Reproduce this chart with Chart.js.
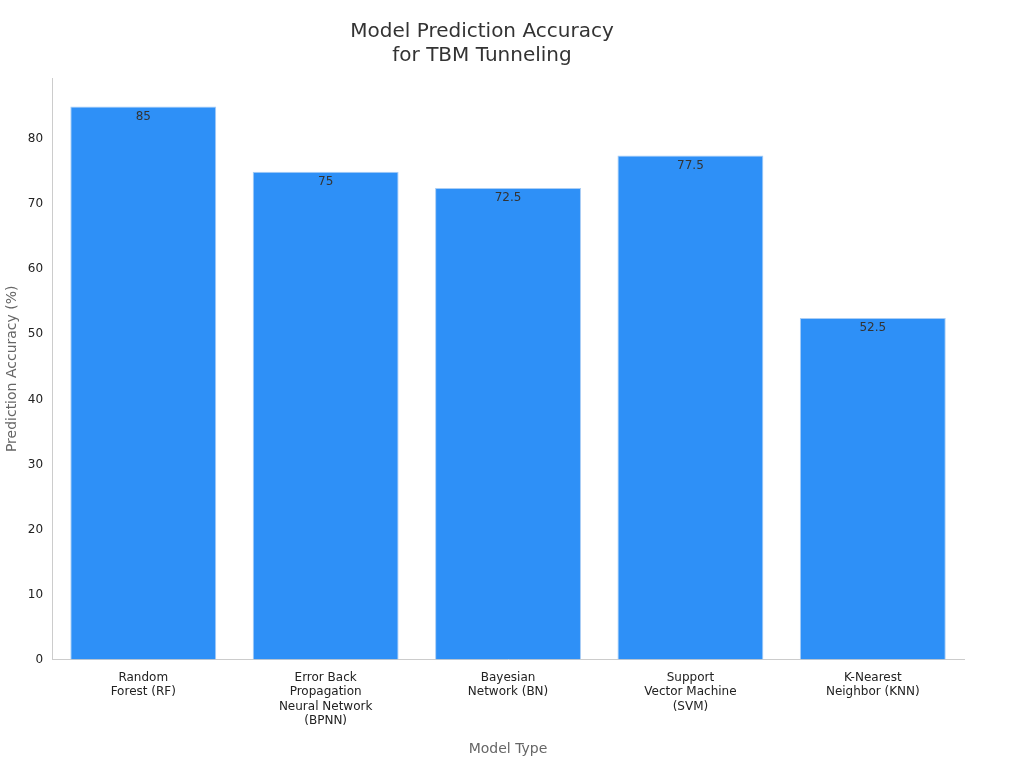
<!DOCTYPE html>
<html>
<head>
<script src="https://cdn.jsdelivr.net/npm/chart.js@4"></script>
<style>body{margin:0;background:#fff}#wrap{width:1024px;height:768px}</style>
</head>
<body>
<div id="wrap"><canvas id="c"></canvas></div>
<script>
const categories = [
  ['Random', 'Forest (RF)'],
  ['Error Back', 'Propagation', 'Neural Network', '(BPNN)'],
  ['Bayesian', 'Network (BN)'],
  ['Support', 'Vector Machine', '(SVM)'],
  ['K-Nearest', 'Neighbor (KNN)']
];
const accuracy = [85, 75, 72.5, 77.5, 52.5];
const yTicks = [0, 10, 20, 30, 40, 50, 60, 70, 80];

Chart.defaults.font.family = 'DejaVu Sans';

const valueLabels = {
  id: 'valueLabels',
  afterDatasetsDraw(chart) {
    const ctx = chart.ctx;
    const meta = chart.getDatasetMeta(0);
    ctx.save();
    ctx.font = '12px DejaVu Sans';
    ctx.fillStyle = '#333';
    ctx.textAlign = 'center';
    ctx.textBaseline = 'top';
    meta.data.forEach((bar, i) => {
      ctx.fillText(String(accuracy[i]), bar.x, bar.y + 4);
    });
    ctx.restore();
  }
};

new Chart(document.getElementById('c'), {
  type: 'bar',
  data: {
    labels: categories,
    datasets: [{
      data: accuracy,
      backgroundColor: '#2e90f7',
      borderColor: '#a9cdf5',
      borderWidth: 1,
      barPercentage: 0.8,
      categoryPercentage: 1
    }]
  },
  options: {
    responsive: true,
    maintainAspectRatio: false,
    animation: false,
    layout: { padding: { left: 0, right: 60, top: 10, bottom: 6 } },
    plugins: {
      legend: { display: false },
      tooltip: { enabled: false },
      title: {
        display: true,
        text: ['Model Prediction Accuracy', 'for TBM Tunneling'],
        color: '#333',
        font: { size: 20, weight: 'normal' },
        padding: { top: 10, bottom: 10 }
      }
    },
    scales: {
      x: {
        grid: { display: false, drawTicks: true },
        border: { color: '#ccc' },
        ticks: { color: '#222', font: { size: 12 }, maxRotation: 0 },
        title: { display: true, text: 'Model Type', color: '#666', font: { size: 14 }, padding: { top: 10 } }
      },
      y: {
        min: 0,
        max: 89.4,
        afterBuildTicks(axis) { axis.ticks = yTicks.map(v => ({ value: v })); },
        grid: { display: false, drawTicks: true, tickLength: 6 },
        border: { color: '#ccc' },
        ticks: { color: '#222', font: { size: 12 } },
        title: { display: true, text: 'Prediction Accuracy (%)', color: '#666', font: { size: 14 } }
      }
    }
  },
  plugins: [valueLabels]
});
</script>
</body>
</html>
